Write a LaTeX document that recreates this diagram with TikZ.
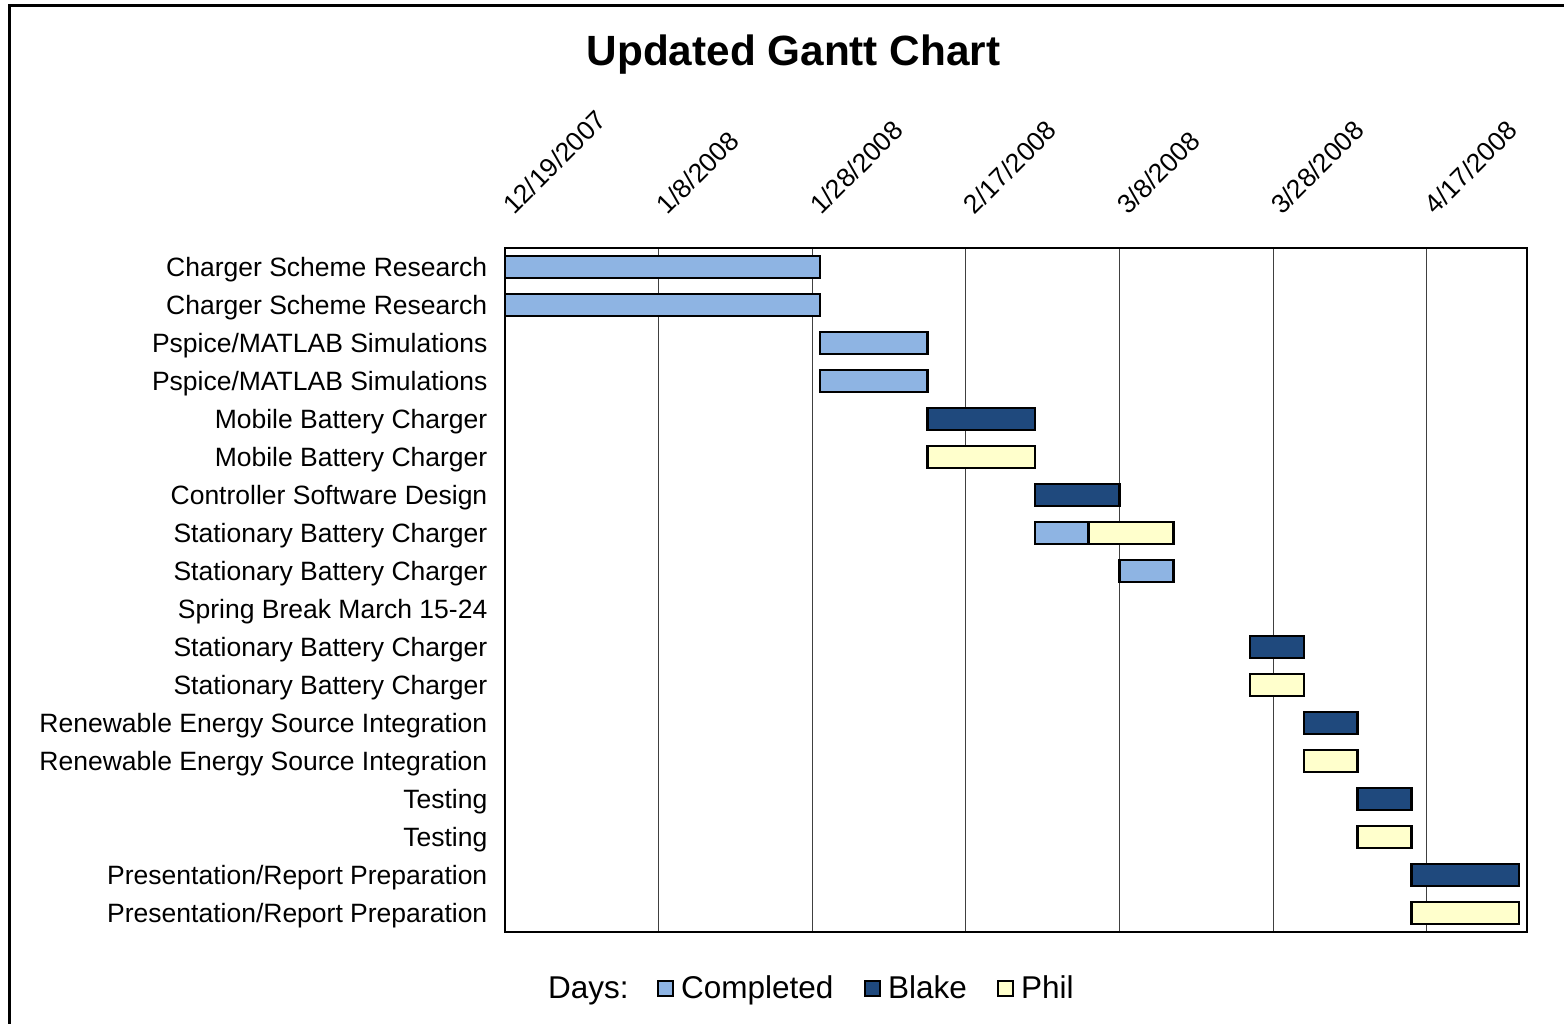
\documentclass[tikz,border=0pt]{standalone}
\usepackage{fontspec}
\setmainfont{Liberation Sans}
\definecolor{cdone}{HTML}{8EB4E3}
\definecolor{cblake}{HTML}{1F497D}
\definecolor{cphil}{HTML}{FFFFCC}
\tikzset{
  rowlabel/.style={anchor=base east,inner sep=0pt,font=\fontsize{26.5}{30}\selectfont},
  datelabel/.style={anchor=base west,inner sep=0pt,rotate=45,font=\fontsize{26.5}{30}\selectfont},
  legtext/.style={anchor=base west,inner sep=0pt,font=\fontsize{31.5}{36}\selectfont},
  gridline/.style={draw=black!75,line width=1pt},
  barbox/.style={draw=black,line width=2.6pt},
  donebar/.style={barbox,fill=cdone},
  blakebar/.style={barbox,fill=cblake},
  philbar/.style={barbox,fill=cphil},
  legbox/.style={draw=black,line width=2pt}
}
\begin{document}
\begin{tikzpicture}[x=1pt,y=-1pt]
\useasboundingbox (0,0) rectangle (1564,1024);
% outer frame
\draw[line width=3pt] (9.5,1024) -- (9.5,6) -- (1564,6);
% title
\node[anchor=base,inner sep=0pt,font=\bfseries\fontsize{42.3}{48}\selectfont] (title) at (793.5,65.5) {Updated Gantt Chart};
% gridlines
\foreach \x in {658.6,812.2,965.8,1119.4,1273,1426.6}
  \draw[gridline] (\x,248) -- (\x,932);
% date labels
\foreach \i/\x/\t in {0/505/{12/19/2007},1/658.6/{1/8/2008},2/812.2/{1/28/2008},3/965.8/{2/17/2008},4/1119.4/{3/8/2008},5/1273/{3/28/2008},6/1426.6/{4/17/2008}}
  \node[datelabel] (d\i) at (\x+9,216) {\t};
% row labels
\foreach \i/\t in {0/{Charger Scheme Research},1/{Charger Scheme Research},2/{Pspice/MATLAB Simulations},3/{Pspice/MATLAB Simulations},4/{Mobile Battery Charger},5/{Mobile Battery Charger},6/{Controller Software Design},7/{Stationary Battery Charger},8/{Stationary Battery Charger},9/{Spring Break March 15-24},10/{Stationary Battery Charger},11/{Stationary Battery Charger},12/{Renewable Energy Source Integration},13/{Renewable Energy Source Integration},14/{Testing},15/{Testing},16/{Presentation/Report Preparation},17/{Presentation/Report Preparation}}
  \node[rowlabel] (r\i) at (487.5,276.5+38*\i) {\t};
% bars: row / start px / end px / style
\foreach \i/\a/\b/\s in {0/505/820/donebar,1/505/820/donebar,2/820/927.5/donebar,3/820/927.5/donebar,4/927.5/1035/blakebar,5/927.5/1035/philbar,6/1035/1119.4/blakebar,7/1035/1088.7/donebar,7/1088.7/1173.2/philbar,8/1119.4/1173.2/donebar,10/1250/1303.8/blakebar,11/1250/1303.8/philbar,12/1303.8/1357.5/blakebar,13/1303.8/1357.5/philbar,14/1357.5/1411.3/blakebar,15/1357.5/1411.3/philbar,16/1411.3/1519/blakebar,17/1411.3/1519/philbar}
  \draw[\s] (\a,256+38*\i) rectangle (\b,278+38*\i);
% plot border
\draw[line width=2pt] (505,248) rectangle (1527,932);
% legend
\node[legtext] (ldays) at (548,998.5) {Days:};
\draw[legbox,fill=cdone] (657.5,980.5) rectangle (673,996);
\node[legtext] (ldone) at (681,998.5) {Completed};
\draw[legbox,fill=cblake] (864.5,980.5) rectangle (880,996);
\node[legtext] (lblake) at (888,998.5) {Blake};
\draw[legbox,fill=cphil] (997.5,980.5) rectangle (1013,996);
\node[legtext] (lphil) at (1021,998.5) {Phil};
\end{tikzpicture}
\end{document}
